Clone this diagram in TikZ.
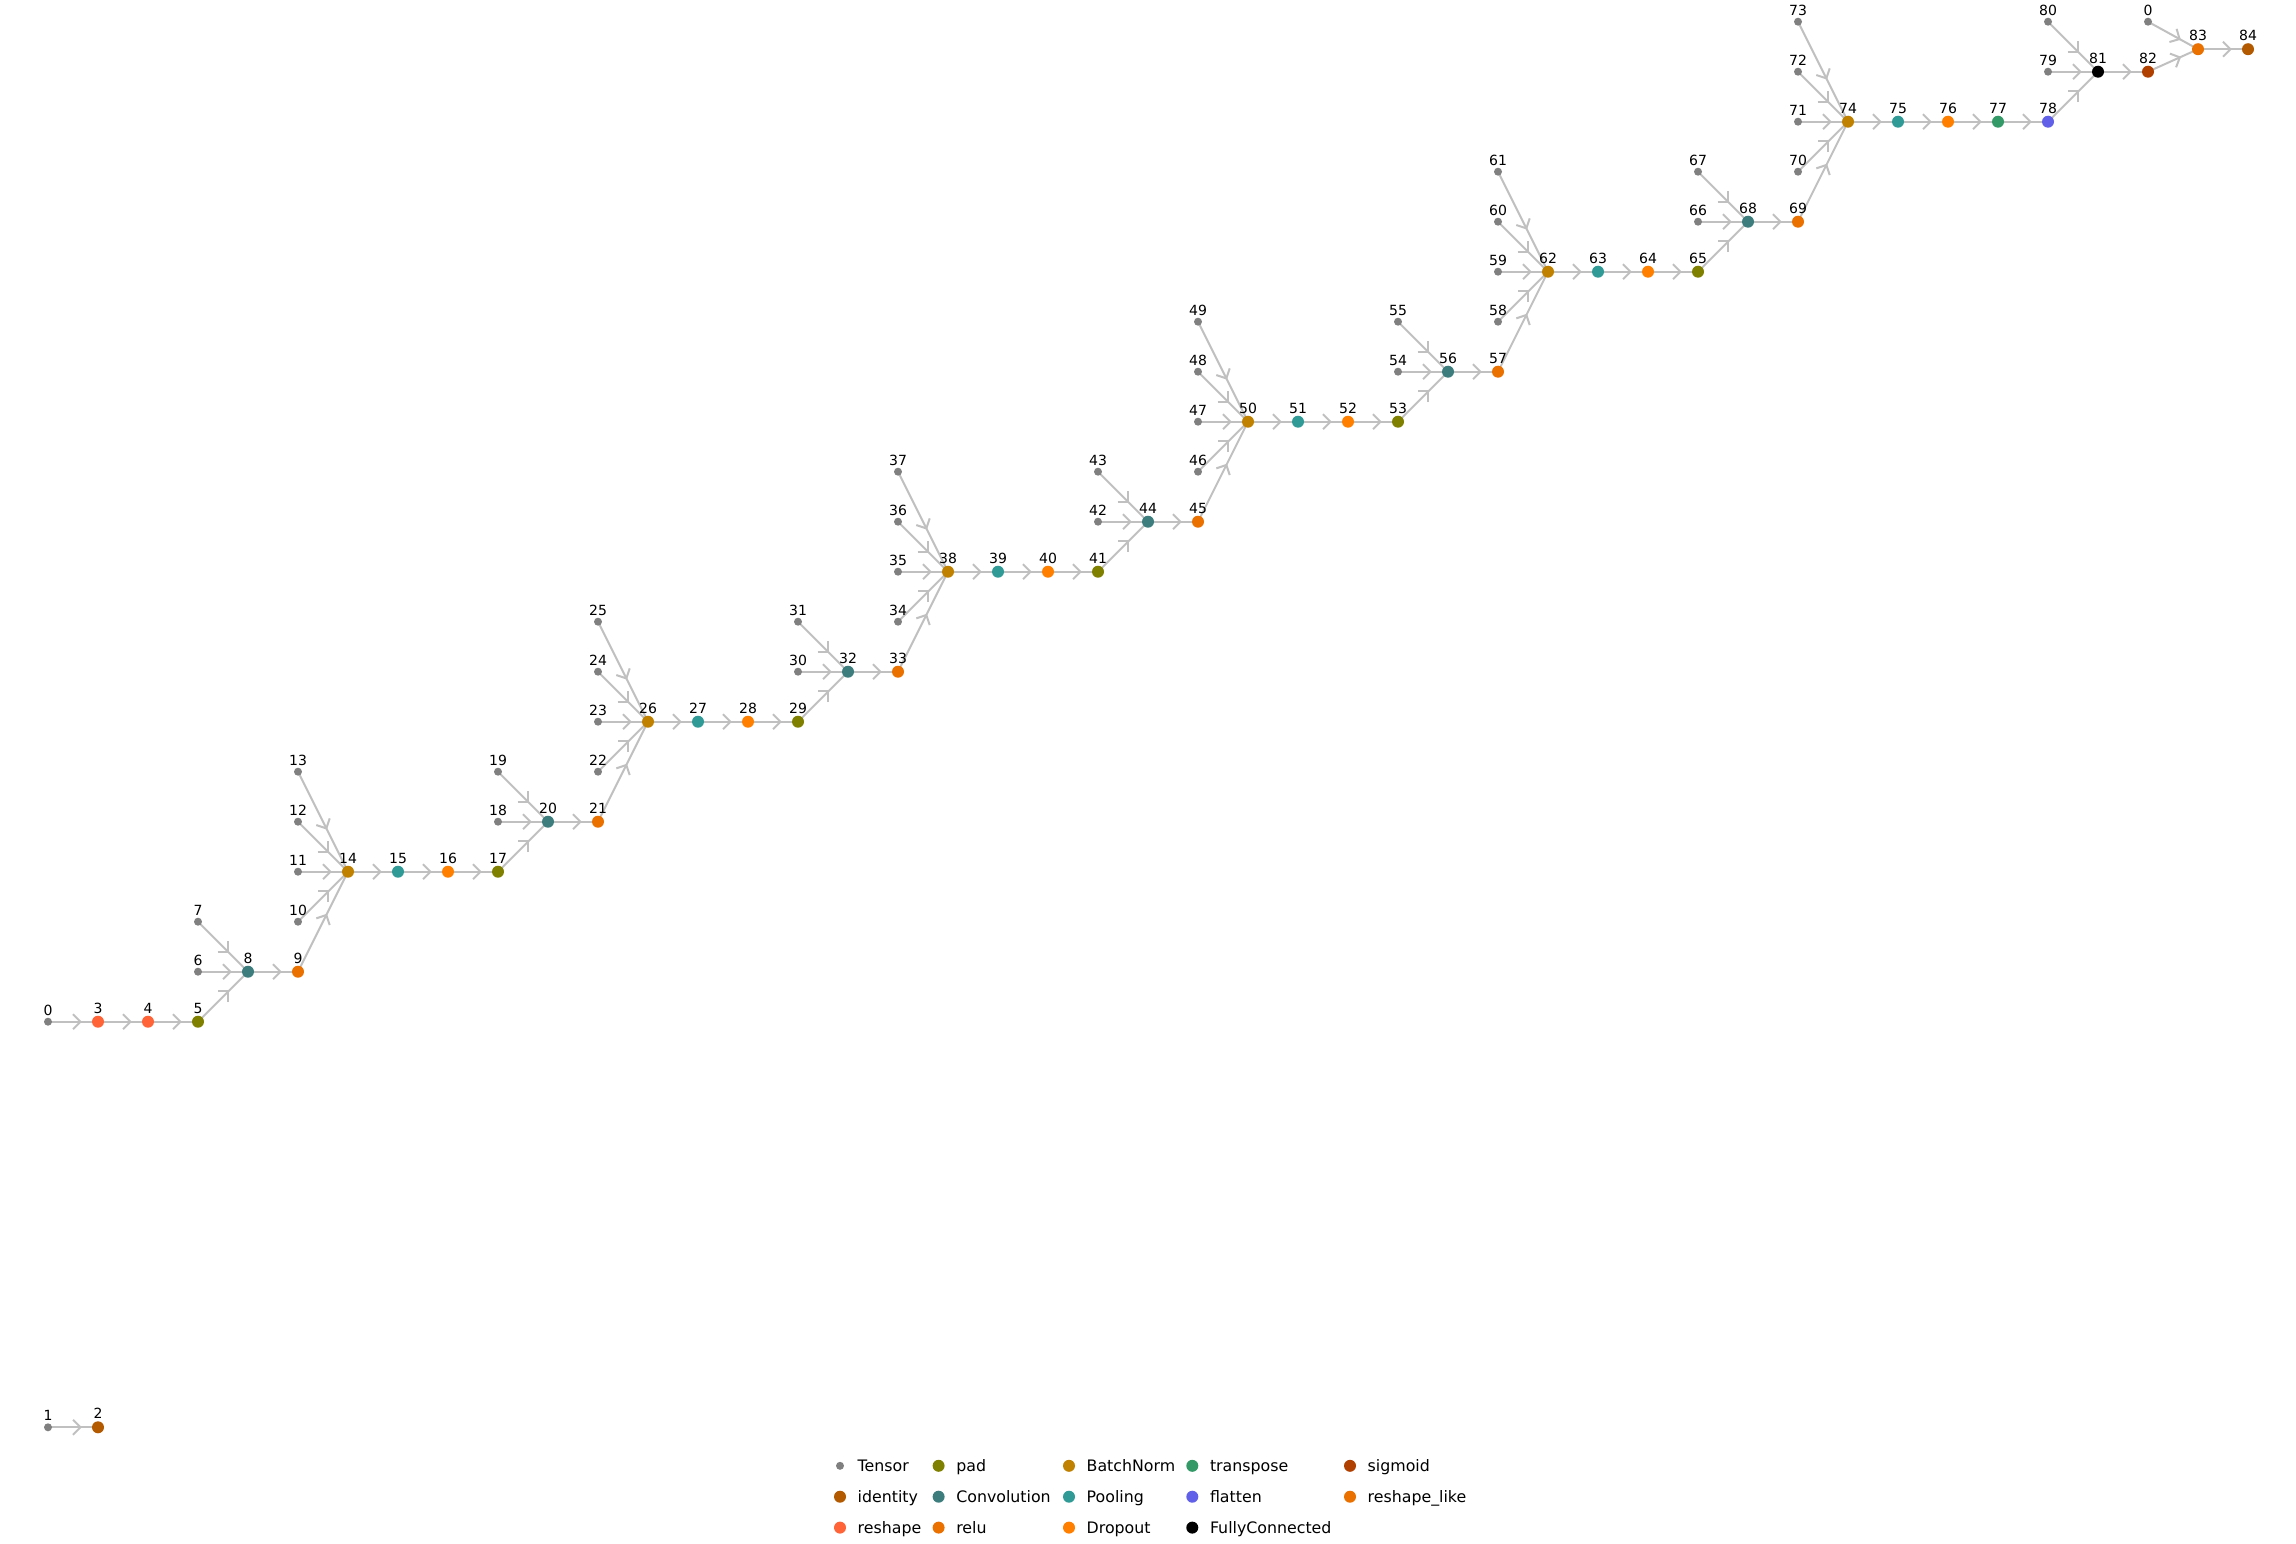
\documentclass[tikz,border=0pt]{standalone}
\usepackage{fontspec}
\setmainfont{DejaVu Sans}
\usetikzlibrary{decorations.markings}
\pgfdeclarelayer{bg}\pgfsetlayers{bg,main}
\definecolor{cTensor}{HTML}{808080}
\definecolor{cIdentity}{HTML}{B35900}
\definecolor{cReshape}{HTML}{FF6438}
\definecolor{cPad}{HTML}{808000}
\definecolor{cConv}{HTML}{3D7D7D}
\definecolor{cRelu}{HTML}{EA7000}
\definecolor{cBN}{HTML}{C08000}
\definecolor{cPool}{HTML}{309B96}
\definecolor{cDrop}{HTML}{FF8000}
\definecolor{cTrans}{HTML}{339966}
\definecolor{cFlat}{HTML}{6060E8}
\definecolor{cFC}{HTML}{000000}
\definecolor{cSig}{HTML}{B04000}
\definecolor{cRL}{HTML}{EA7000}
\definecolor{edgec}{HTML}{C0C0C0}
\begin{document}
\begin{tikzpicture}[x=1pt,y=-1pt,
  opn/.style={circle, inner sep=0pt, minimum size=12pt, draw=none},
  tensor/.style={circle, inner sep=0pt, minimum size=8pt, draw=none, fill=cTensor},
  lab/.style={font=\fontsize{14}{16}\selectfont, inner sep=0pt, anchor=base, label distance=2.4pt},
  legtxt/.style={font=\fontsize{15.8}{18}\selectfont, inner sep=0pt, anchor=base west},
  edge/.style={draw=edgec, line width=2pt, postaction={decorate},
    decoration={markings, mark=at position 0.5 with {\draw[edgec, line width=2pt] (0,7.5) -- (7.5,0) -- (0,-7.5);}}},
]
\useasboundingbox (0,0) rectangle (2296,1544);
% tensor nodes
\foreach \n/\c/\r in {0/0/0, 1/0/-8.112, 6/3/1, 7/3/2, 10/5/2, 11/5/3, 12/5/4, 13/5/5,
  18/9/4, 19/9/5, 22/11/5, 23/11/6, 24/11/7, 25/11/8, 30/15/7, 31/15/8,
  34/17/8, 35/17/9, 36/17/10, 37/17/11, 42/21/10, 43/21/11,
  46/23/11, 47/23/12, 48/23/13, 49/23/14, 54/27/13, 55/27/14,
  58/29/14, 59/29/15, 60/29/16, 61/29/17, 66/33/16, 67/33/17,
  70/35/17, 71/35/18, 72/35/19, 73/35/20, 79/40/19, 80/40/20}
  \node[tensor, label={[lab]90:\n}] (n\n) at ({48+50*\c},{1021.7-50*\r}) {};
\node[tensor, label={[lab]90:0}] (n0b) at ({48+50*42},{1021.7-50*20}) {};
% operation nodes
\foreach \n/\c/\r/\col in {2/1/-8.112/cIdentity, 3/1/0/cReshape, 4/2/0/cReshape, 5/3/0/cPad,
  8/4/1/cConv, 9/5/1/cRelu, 14/6/3/cBN, 15/7/3/cPool, 16/8/3/cDrop, 17/9/3/cPad,
  20/10/4/cConv, 21/11/4/cRelu, 26/12/6/cBN, 27/13/6/cPool, 28/14/6/cDrop, 29/15/6/cPad,
  32/16/7/cConv, 33/17/7/cRelu, 38/18/9/cBN, 39/19/9/cPool, 40/20/9/cDrop, 41/21/9/cPad,
  44/22/10/cConv, 45/23/10/cRelu, 50/24/12/cBN, 51/25/12/cPool, 52/26/12/cDrop, 53/27/12/cPad,
  56/28/13/cConv, 57/29/13/cRelu, 62/30/15/cBN, 63/31/15/cPool, 64/32/15/cDrop, 65/33/15/cPad,
  68/34/16/cConv, 69/35/16/cRelu, 74/36/18/cBN, 75/37/18/cPool, 76/38/18/cDrop, 77/39/18/cTrans,
  78/40/18/cFlat, 81/41/19/cFC, 82/42/19/cSig, 83/43/19.45/cRL, 84/44/19.45/cIdentity}
  \node[opn, fill=\col, label={[lab]90:\n}] (n\n) at ({48+50*\c},{1021.7-50*\r}) {};
% edges
\begin{pgfonlayer}{bg}
\foreach \a/\b in {0/3, 3/4, 4/5, 5/8, 6/8, 7/8, 8/9, 9/14, 10/14, 11/14, 12/14, 13/14,
  14/15, 15/16, 16/17, 17/20, 18/20, 19/20, 20/21, 21/26, 22/26, 23/26, 24/26, 25/26,
  26/27, 27/28, 28/29, 29/32, 30/32, 31/32, 32/33, 33/38, 34/38, 35/38, 36/38, 37/38,
  38/39, 39/40, 40/41, 41/44, 42/44, 43/44, 44/45, 45/50, 46/50, 47/50, 48/50, 49/50,
  50/51, 51/52, 52/53, 53/56, 54/56, 55/56, 56/57, 57/62, 58/62, 59/62, 60/62, 61/62,
  62/63, 63/64, 64/65, 65/68, 66/68, 67/68, 68/69, 69/74, 70/74, 71/74, 72/74, 73/74,
  74/75, 75/76, 76/77, 77/78, 78/81, 79/81, 80/81, 81/82, 82/83, 0b/83, 83/84, 1/2}
  \draw[edge] (n\a.center) -- (n\b.center);
\end{pgfonlayer}
% legend
\foreach \i/\x/\y/\col/\sz/\txt in {
  1/840/1465.8/cTensor/8/Tensor, 2/840/1496.7/cIdentity/12/identity, 3/840/1527.6/cReshape/12/reshape,
  4/938.6/1465.8/cPad/12/pad, 5/938.6/1496.7/cConv/12/Convolution, 6/938.6/1527.6/cRelu/12/relu,
  7/1069/1465.8/cBN/12/BatchNorm, 8/1069/1496.7/cPool/12/Pooling, 9/1069/1527.6/cDrop/12/Dropout,
  10/1192.3/1465.8/cTrans/12/transpose, 11/1192.3/1496.7/cFlat/12/flatten, 12/1192.3/1527.6/cFC/12/FullyConnected,
  13/1350/1465.8/cSig/12/sigmoid, 14/1350/1496.7/cRL/12/reshape\_like}
{
  \node[circle, inner sep=0pt, minimum size=\sz pt, fill=\col] (lm\i) at (\x,\y) {};
  \node[legtxt] (lt\i) at (\x+17.5,\y+5.8) {\txt};
}
\end{tikzpicture}
\end{document}
